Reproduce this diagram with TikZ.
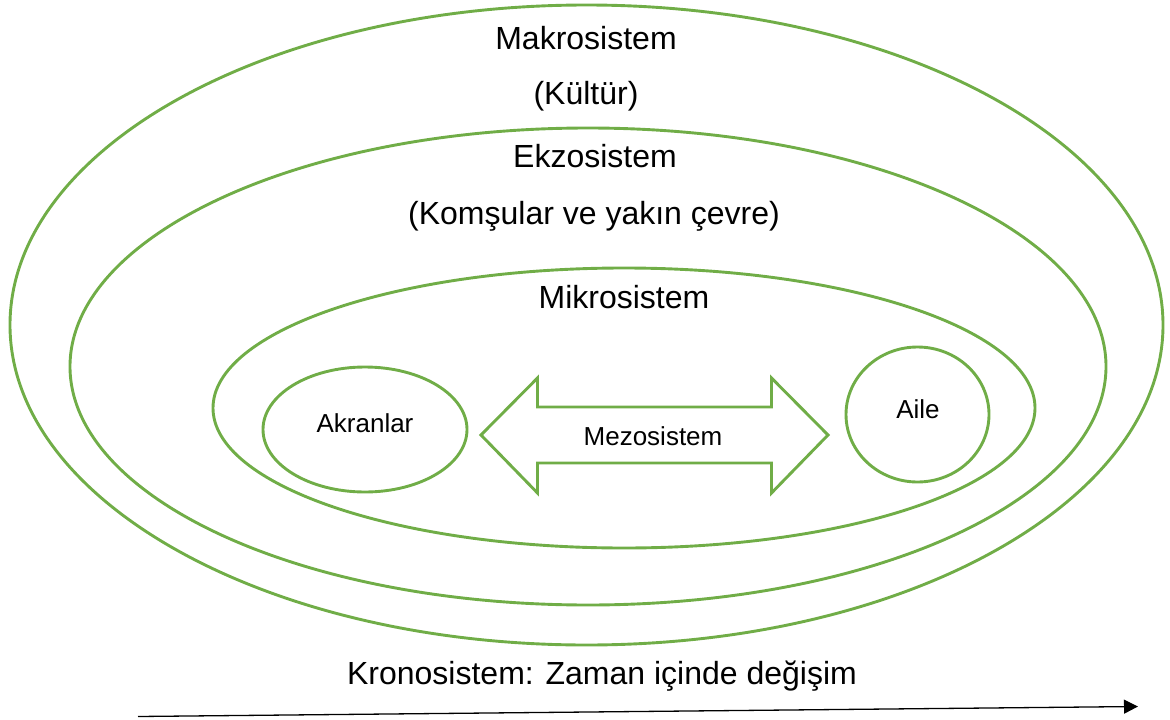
\documentclass[tikz,border=0pt]{standalone}
\usepackage{fontspec}
\setmainfont{Liberation Sans}
\usetikzlibrary{shapes.geometric,arrows.meta}
\definecolor{leaf}{HTML}{70AD47}
\begin{document}
\begin{tikzpicture}[x=1pt,y=-1pt,
  ring/.style={ellipse,draw=leaf,line width=2.9pt,inner sep=0pt},
  bigtxt/.style={anchor=base,font=\fontsize{32}{36}\selectfont,inner sep=0pt},
  smalltxt/.style={anchor=base,font=\fontsize{26}{30}\selectfont,inner sep=0pt}]
\useasboundingbox (0,0) rectangle (1170,720);
% nested system rings
\node[ring,minimum width=1153pt,minimum height=640pt] (makro) at (586.5,325) {};
\node[ring,minimum width=1036pt,minimum height=477pt] (ekzo) at (588,366.5) {};
\node[ring,minimum width=822pt,minimum height=280pt] (mikro) at (624,408) {};
\node[ring,minimum width=204pt,minimum height=125pt] (akran) at (365,429.5) {};
\node[ring,minimum width=143pt,minimum height=135pt] (aile) at (917.5,414.5) {};
% two-headed block arrow between peers and family
\draw[draw=leaf,line width=2.9pt,line join=miter]
  (481,435) -- (537.5,378) -- (537.5,407) -- (771.5,407) -- (771.5,378)
  -- (828,435) -- (771.5,493) -- (771.5,463) -- (537.5,463) -- (537.5,493) -- cycle;
% labels
\node[bigtxt] (tmakro) at (586,49.5) {Makrosistem};
\node[bigtxt] (tkultur) at (586,104.5) {(Kültür)};
\node[bigtxt] (tekzo) at (595,167.5) {Ekzosistem};
\node[bigtxt] (tkomsu) at (594,224.5) {(Komşular ve yakın çevre)};
\node[bigtxt] (tmikro) at (624,308.5) {Mikrosistem};
\node[smalltxt] (takran) at (365,432) {Akranlar};
\node[smalltxt] (tmezo) at (653,445) {Mezosistem};
\node[smalltxt] (taile) at (918,418) {Aile};
\node[bigtxt] (tkrono) at (602,684.5) {Kronosistem: Zaman içinde değişim};
% time axis
\coordinate (t0) at (138,716.5);
\coordinate (t1) at (1138,706.5);
\draw[line width=1.3pt,-{Triangle[length=14pt,width=14pt]}] (t0) -- (t1);
\end{tikzpicture}
\end{document}
